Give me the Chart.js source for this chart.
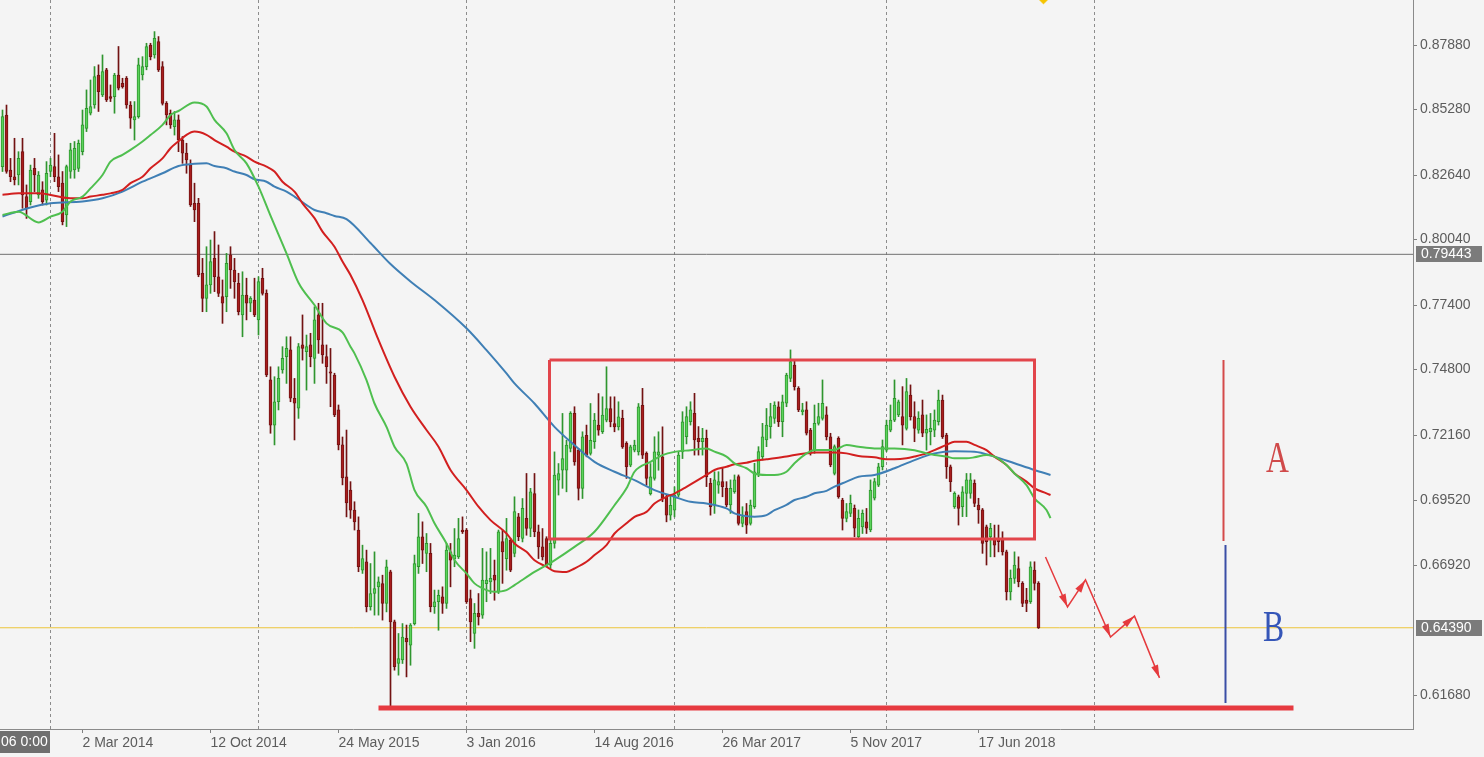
<!DOCTYPE html>
<html><head><meta charset="utf-8">
<script src="https://cdn.jsdelivr.net/npm/chart.js@4/dist/chart.umd.min.js"></script>
<style>
html,body{margin:0;padding:0;background:#f4f4f4;}
#wrap{position:relative;width:1484px;height:757px;}
canvas{display:block;}
</style></head><body><div id="wrap"><canvas id="c" width="1484" height="757"></canvas></div>
<script>
// Weekly candles, first candle is week index -12 (week 0 = 5 Jan 2014)
const firstWeek = -12;
const opens = [
0.8298,0.8506,0.8284,0.8257,0.8264,0.8358,0.8177,0.8157,0.8291,0.8184,
0.8204,0.8163,0.8278,0.8298,0.8257,0.8231,0.8103,0.8278,0.8284,0.8291,
0.8358,0.8452,0.8513,0.8546,0.8667,0.8587,0.8688,0.8580,0.8580,0.8667,
0.8634,0.8654,0.8546,0.8486,0.8499,0.8667,0.8701,0.8788,0.8748,0.8802,
0.8701,0.8553,0.8513,0.8459,0.8486,0.8405,0.8352,0.8305,0.8150,0.8150,
0.7868,0.7767,0.7821,0.7928,0.7854,0.7774,0.7774,0.7942,0.7881,0.7827,
0.7700,0.7780,0.7747,0.7760,0.7680,0.7848,0.7787,0.7438,0.7256,0.7350,
0.7478,0.7532,0.7559,0.7364,0.7324,0.7579,0.7552,0.7579,0.7525,0.7700,
0.7579,0.7532,0.7471,0.7458,0.7317,0.7176,0.7047,0.6994,0.6913,0.6833,
0.6671,0.6705,0.6524,0.6577,0.6604,0.6617,0.6537,0.6665,0.6463,0.6295,
0.6309,0.6396,0.6369,0.6456,0.6685,0.6806,0.6739,0.6739,0.6524,0.6544,
0.6564,0.6537,0.6745,0.6718,0.6725,0.6833,0.6833,0.6557,0.6416,0.6497,
0.6490,0.6617,0.6624,0.6651,0.6584,0.6786,0.6718,0.6792,0.6739,0.6886,
0.6799,0.6880,0.6839,0.6980,0.6826,0.6765,0.6799,0.6691,0.6779,0.7034,
0.7074,0.7074,0.7162,0.7303,0.7155,0.7001,0.7215,0.7142,0.7189,0.7256,
0.7229,0.7276,0.7323,0.7262,0.7249,0.7283,0.7182,0.7094,0.7155,0.7148,
0.7336,0.7142,0.6980,0.7041,0.7135,0.7128,0.6967,0.6893,0.6913,0.6974,
0.7148,0.7209,0.7270,0.7303,0.7203,0.7189,0.7203,0.7021,0.6934,0.7014,
0.7028,0.7001,0.6934,0.6988,0.7048,0.6860,0.6907,0.6860,0.6927,0.7061,
0.7129,0.7196,0.7250,0.7283,0.7330,0.7270,0.7344,0.7444,0.7498,0.7404,
0.7310,0.7317,0.7236,0.7156,0.7263,0.7283,0.7297,0.7209,0.7061,0.7203,
0.6954,0.6880,0.6900,0.6920,0.6806,0.6846,0.6866,0.6833,0.6961,0.7014,
0.7088,0.7155,0.7236,0.7276,0.7297,0.7290,0.7243,0.7377,0.7290,0.7236,
0.7297,0.7223,0.7229,0.7236,0.7270,0.7357,0.7216,0.7088,0.6927,0.6967,
0.6927,0.6981,0.6981,0.7021,0.6934,0.6914,0.6846,0.6806,0.6799,0.6799,
0.6799,0.6745,0.6584,0.6638,0.6678,0.6618,0.6551,0.6544,0.6672,0.6618];
const highs = [
0.8526,0.8546,0.8331,0.8412,0.8358,0.8412,0.8224,0.8304,0.8331,0.8278,
0.8237,0.8318,0.8331,0.8432,0.8345,0.8278,0.8304,0.8392,0.8399,0.8405,
0.8526,0.8607,0.8647,0.8701,0.8708,0.8748,0.8694,0.8627,0.8674,0.8782,
0.8654,0.8661,0.8560,0.8560,0.8735,0.8741,0.8795,0.8795,0.8842,0.8822,
0.8721,0.8560,0.8526,0.8520,0.8506,0.8419,0.8392,0.8325,0.8231,0.8170,
0.7928,0.7975,0.8002,0.8036,0.7982,0.7841,0.7948,0.7975,0.7928,0.7868,
0.7874,0.7848,0.7774,0.7848,0.7854,0.7888,0.7801,0.7491,0.7451,0.7491,
0.7572,0.7612,0.7612,0.7444,0.7585,0.7700,0.7619,0.7626,0.7733,0.7747,
0.7747,0.7579,0.7565,0.7465,0.7337,0.7208,0.7236,0.7028,0.6947,0.6886,
0.6772,0.6752,0.6698,0.6745,0.6644,0.6651,0.6712,0.6671,0.6470,0.6416,
0.6456,0.6450,0.6456,0.6732,0.6900,0.6866,0.6819,0.6779,0.6591,0.6591,
0.6604,0.6779,0.6779,0.6839,0.6880,0.6886,0.6839,0.6591,0.6537,0.6577,
0.6759,0.6745,0.6759,0.6712,0.6833,0.6833,0.6880,0.6800,0.6967,0.6900,
0.6960,0.7061,0.7001,0.7061,0.6853,0.6839,0.6806,0.6792,0.7148,0.7101,
0.7303,0.7195,0.7310,0.7330,0.7162,0.7229,0.7256,0.7343,0.7303,0.7383,
0.7370,0.7491,0.7370,0.7370,0.7350,0.7316,0.7189,0.7175,0.7195,0.7343,
0.7404,0.7148,0.7101,0.7209,0.7229,0.7249,0.6974,0.6974,0.7007,0.7148,
0.7310,0.7330,0.7350,0.7384,0.7250,0.7243,0.7236,0.7041,0.7068,0.7068,
0.7082,0.7028,0.7035,0.7055,0.7055,0.6927,0.6940,0.6954,0.7102,0.7169,
0.7263,0.7323,0.7344,0.7350,0.7350,0.7377,0.7465,0.7559,0.7518,0.7411,
0.7344,0.7350,0.7243,0.7337,0.7344,0.7438,0.7330,0.7223,0.7176,0.7209,
0.6961,0.6940,0.6974,0.6934,0.6914,0.6914,0.6920,0.7035,0.7041,0.7102,
0.7196,0.7276,0.7337,0.7438,0.7357,0.7411,0.7444,0.7418,0.7350,0.7310,
0.7357,0.7297,0.7303,0.7317,0.7397,0.7377,0.7223,0.7095,0.6987,0.6974,
0.7008,0.7061,0.7061,0.7035,0.6961,0.6920,0.6853,0.6860,0.6853,0.6853,
0.6826,0.6752,0.6672,0.6745,0.6725,0.6625,0.6598,0.6705,0.6705,0.6625];
const lows = [
0.8278,0.8271,0.8237,0.8224,0.8224,0.8130,0.8089,0.8143,0.8197,0.8170,
0.8143,0.8143,0.8257,0.8237,0.8197,0.8063,0.8056,0.8251,0.8251,0.8278,
0.8345,0.8439,0.8506,0.8533,0.8520,0.8580,0.8560,0.8560,0.8513,0.8607,
0.8614,0.8533,0.8452,0.8405,0.8493,0.8647,0.8688,0.8728,0.8735,0.8681,
0.8546,0.8466,0.8452,0.8425,0.8358,0.8311,0.8271,0.8137,0.8076,0.7854,
0.7713,0.7713,0.7787,0.7794,0.7774,0.7666,0.7713,0.7807,0.7767,0.7700,
0.7612,0.7680,0.7713,0.7693,0.7619,0.7780,0.7451,0.7223,0.7176,0.7317,
0.7465,0.7424,0.7350,0.7196,0.7283,0.7518,0.7397,0.7491,0.7424,0.7545,
0.7505,0.7424,0.7330,0.7290,0.7156,0.7015,0.6886,0.6880,0.6833,0.6665,
0.6658,0.6503,0.6510,0.6490,0.6490,0.6470,0.6503,0.6110,0.6268,0.6248,
0.6295,0.6241,0.6288,0.6450,0.6658,0.6698,0.6665,0.6503,0.6497,0.6429,
0.6497,0.6517,0.6604,0.6685,0.6718,0.6819,0.6537,0.6383,0.6356,0.6450,
0.6477,0.6544,0.6577,0.6550,0.6577,0.6618,0.6671,0.6665,0.6725,0.6790,
0.6785,0.6812,0.6806,0.6806,0.6718,0.6712,0.6685,0.6678,0.6760,0.6974,
0.7001,0.6987,0.7148,0.7094,0.6954,0.6960,0.7128,0.7135,0.7162,0.7215,
0.7222,0.7269,0.7249,0.7229,0.7236,0.7162,0.7041,0.7088,0.7148,0.7135,
0.7121,0.7014,0.6974,0.7034,0.7074,0.6947,0.6866,0.6873,0.6886,0.6967,
0.7121,0.7180,0.7256,0.7135,0.7135,0.7135,0.7008,0.6893,0.6900,0.6981,
0.6967,0.6927,0.6900,0.6981,0.6853,0.6846,0.6819,0.6853,0.6920,0.7048,
0.7115,0.7169,0.7203,0.7263,0.7250,0.7209,0.7330,0.7431,0.7397,0.7310,
0.7297,0.7216,0.7135,0.7142,0.7256,0.7276,0.7196,0.7088,0.7055,0.6961,
0.6833,0.6866,0.6887,0.6806,0.6799,0.6819,0.6819,0.6826,0.6954,0.7008,
0.7075,0.7149,0.7229,0.7270,0.7290,0.7176,0.7236,0.7276,0.7189,0.7223,
0.7209,0.7155,0.7176,0.7209,0.7256,0.7202,0.7041,0.6988,0.6920,0.6853,
0.6887,0.6887,0.6961,0.6927,0.6860,0.6739,0.6692,0.6725,0.6725,0.6745,
0.6732,0.6551,0.6551,0.6618,0.6604,0.6524,0.6504,0.6537,0.6591,0.6436];
const closes = [
0.8499,0.8278,0.8257,0.8244,0.8331,0.8184,0.8130,0.8284,0.8264,0.8264,
0.8157,0.8271,0.8304,0.8257,0.8217,0.8076,0.8298,0.8365,0.8372,0.8392,
0.8466,0.8533,0.8540,0.8661,0.8600,0.8681,0.8567,0.8573,0.8667,0.8614,
0.8620,0.8546,0.8493,0.8499,0.8708,0.8701,0.8782,0.8741,0.8815,0.8688,
0.8553,0.8506,0.8466,0.8486,0.8405,0.8352,0.8325,0.8143,0.8123,0.7861,
0.7767,0.7821,0.7915,0.7854,0.7787,0.7747,0.7908,0.7881,0.7834,0.7713,
0.7780,0.7747,0.7767,0.7700,0.7834,0.7787,0.7458,0.7256,0.7350,0.7444,
0.7525,0.7565,0.7364,0.7344,0.7572,0.7565,0.7572,0.7532,0.7680,0.7599,
0.7539,0.7491,0.7465,0.7297,0.7176,0.7043,0.6942,0.6913,0.6866,0.6685,
0.6718,0.6524,0.6577,0.6597,0.6624,0.6537,0.6685,0.6463,0.6282,0.6315,
0.6402,0.6382,0.6450,0.6698,0.6806,0.6752,0.6779,0.6524,0.6544,0.6570,
0.6537,0.6752,0.6712,0.6732,0.6799,0.6826,0.6544,0.6463,0.6497,0.6483,
0.6631,0.6631,0.6638,0.6631,0.6826,0.6745,0.6799,0.6671,0.6907,0.6806,
0.6920,0.6839,0.6987,0.6826,0.6765,0.6725,0.6691,0.6779,0.7054,0.7061,
0.7121,0.7175,0.7303,0.7108,0.7001,0.7209,0.7135,0.7195,0.7276,0.7236,
0.7296,0.7323,0.7269,0.7249,0.7289,0.7168,0.7088,0.7168,0.7175,0.7330,
0.7135,0.7041,0.7047,0.7148,0.7148,0.6960,0.6893,0.6933,0.6974,0.7135,
0.7269,0.7290,0.7317,0.7196,0.7189,0.7203,0.7048,0.6927,0.7035,0.7028,
0.7008,0.6934,0.7001,0.7035,0.6860,0.6887,0.6853,0.6934,0.7068,0.7149,
0.7209,0.7256,0.7290,0.7337,0.7270,0.7350,0.7458,0.7512,0.7411,0.7317,
0.7317,0.7223,0.7149,0.7263,0.7290,0.7344,0.7209,0.7095,0.7169,0.6967,
0.6880,0.6907,0.6941,0.6840,0.6880,0.6900,0.6840,0.6994,0.7028,0.7088,
0.7169,0.7256,0.7276,0.7364,0.7350,0.7256,0.7391,0.7290,0.7243,0.7283,
0.7223,0.7239,0.7243,0.7276,0.7357,0.7209,0.7088,0.7028,0.6981,0.6920,
0.6987,0.7035,0.7035,0.6940,0.6914,0.6779,0.6786,0.6840,0.6772,0.6786,
0.6745,0.6584,0.6638,0.6692,0.6625,0.6537,0.6537,0.6685,0.6618,0.6439];

// Moving averages (week index, value)
const maFastWeeks = [-12,-8,-3,0,3,5,8,10,13,15,18,20,23,25,28,30,32,36,39,41,44,46,49,52,55,59,62,66,69,73,75,76,79,81,84,86,89,91,94,96,99,101,104,106,109,111,114,116,121,126,131,136,141,144,146,150,153,156,160,164,166,169,171,174,176,179,181,184,186,189,191,194,196,199,202,206,211,216,219,221,224,226,229,231,234,236,239,241,244,246,249,250];
const maFastValues = [0.8103,0.8116,0.8073,0.8096,0.8116,0.8157,0.8177,0.8210,0.8264,0.8318,0.8345,0.8365,0.8399,0.8425,0.8466,0.8506,0.8522,0.8556,0.8540,0.8486,0.8432,0.8365,0.8311,0.8217,0.8100,0.7948,0.7830,0.7740,0.7666,0.7630,0.7572,0.7545,0.7437,0.7343,0.7249,0.7169,0.7101,0.6994,0.6927,0.6860,0.6779,0.6712,0.6658,0.6618,0.6591,0.6584,0.6591,0.6611,0.6664,0.6711,0.6765,0.6826,0.6933,0.7001,0.7068,0.7108,0.7135,0.7148,0.7155,0.7162,0.7149,0.7129,0.7102,0.7082,0.7061,0.7055,0.7055,0.7068,0.7102,0.7142,0.7156,0.7156,0.7156,0.7176,0.7169,0.7162,0.7162,0.7155,0.7142,0.7135,0.7129,0.7122,0.7122,0.7126,0.7135,0.7129,0.7095,0.7061,0.7014,0.6961,0.6914,0.6881];
const maMidWeeks = [-12,-8,-3,5,8,10,13,15,18,20,23,25,28,30,32,34,36,39,41,44,46,49,51,54,56,58,61,63,66,68,71,73,75,78,82,86,90,94,97,100,104,107,110,114,116,119,121,124,126,129,131,134,136,139,141,144,146,149,151,154,156,159,164,166,169,171,174,176,179,181,184,186,189,191,194,196,199,202,206,209,211,214,216,219,221,224,226,229,231,234,236,239,241,244,246,249,250];
const maMidValues = [0.8184,0.8190,0.8190,0.8170,0.8170,0.8177,0.8184,0.8190,0.8204,0.8231,0.8257,0.8291,0.8331,0.8372,0.8400,0.8426,0.8439,0.8426,0.8405,0.8378,0.8358,0.8338,0.8318,0.8298,0.8278,0.8237,0.8197,0.8150,0.8090,0.8036,0.7975,0.7915,0.7861,0.7760,0.7599,0.7451,0.7330,0.7236,0.7169,0.7075,0.6994,0.6927,0.6873,0.6819,0.6779,0.6745,0.6711,0.6685,0.6667,0.6664,0.6678,0.6705,0.6732,0.6772,0.6819,0.6860,0.6886,0.6906,0.6940,0.6967,0.6980,0.7007,0.7055,0.7075,0.7088,0.7098,0.7104,0.7112,0.7118,0.7122,0.7129,0.7135,0.7142,0.7145,0.7145,0.7145,0.7142,0.7131,0.7126,0.7118,0.7118,0.7122,0.7129,0.7142,0.7155,0.7176,0.7189,0.7189,0.7176,0.7155,0.7129,0.7095,0.7061,0.7028,0.7001,0.6981,0.6974];
const maSlowWeeks = [-12,-5,0,8,13,18,23,28,32,36,39,41,44,46,49,51,54,56,59,61,64,66,69,71,74,80,85,90,96,104,109,114,116,121,126,131,136,141,146,151,156,160,164,169,171,174,176,179,181,184,186,189,191,194,196,199,202,206,211,216,221,226,231,236,241,246,250];
const maSlowValues = [0.8097,0.8133,0.8150,0.8157,0.8170,0.8197,0.8237,0.8271,0.8300,0.8309,0.8311,0.8300,0.8291,0.8278,0.8264,0.8247,0.8237,0.8217,0.8197,0.8177,0.8143,0.8123,0.8110,0.8099,0.8086,0.7990,0.7905,0.7835,0.7760,0.7646,0.7558,0.7464,0.7424,0.7343,0.7249,0.7175,0.7108,0.7068,0.7034,0.6994,0.6967,0.6947,0.6940,0.6920,0.6900,0.6889,0.6887,0.6893,0.6913,0.6934,0.6954,0.6967,0.6981,0.6991,0.7008,0.7028,0.7048,0.7055,0.7082,0.7115,0.7142,0.7151,0.7149,0.7129,0.7102,0.7075,0.7055];

// Axis labels
const dateLabelWeeks = [8,40,72,104,136,168,200,232];
const dateLabels = ["2 Mar 2014","12 Oct 2014","24 May 2015","3 Jan 2016","14 Aug 2016","26 Mar 2017","5 Nov 2017","17 Jun 2018"];
const yearStartWeeks = [0,52,104,156,209,261];
const priceTicks = [0.8788,0.8528,0.8264,0.8004,0.7740,0.7480,0.7216,0.6952,0.6692,0.6168];
const markedPrices = [0.79443,0.64390];   // grey level line, yellow bid line

// Drawn objects (value coordinates)
const boxWeeks = [124.75,246,246,124.75,124.75];
const boxValues = [0.7518,0.7518,0.6797,0.6797,0.7518];
const supportWeeks = [82,310.75];
const supportValues = [0.6116,0.6116];
const legAWeeks = [293.25,293.25]; const legAValues = [0.7518,0.6789];
const legBWeeks = [293.75,293.75]; const legBValues = [0.6773,0.6136];
const arrowWeeks = [248.75,254.25,258.75,265,271,277.25];
const arrowValues = [0.6724,0.6523,0.6632,0.6402,0.6486,0.6237];
const markerWeek = [248.25]; const markerValue = [0.8982];
const textLabels = ["A","B"]; const textWeeks = [306.75,305.75]; const textValues = [0.7123,0.6442];

const GREEN_FILL='#5bd35b', GREEN_EDGE='#2f962f', RED_FILL='#a81d1d', RED_EDGE='#721212';
const bull = i => closes[i] >= opens[i];
const pts = (xs, ys) => xs.map((x,i)=>({x:x, y:ys[i]}));
const FONT = {family:'"Liberation Sans", Arial, sans-serif', size:14};

const overlay = {
  id:'overlay',
  beforeDatasetsDraw(chart){
    const {ctx, chartArea:a, scales:{x}} = chart;
    ctx.save();
    ctx.strokeStyle='#8c8c8c'; ctx.lineWidth=1; ctx.setLineDash([3,3]);
    yearStartWeeks.forEach(w=>{
      const px=Math.floor(x.getPixelForValue(w))+0.5;
      ctx.beginPath(); ctx.moveTo(px,a.top); ctx.lineTo(px,a.bottom); ctx.stroke();
    });
    ctx.restore();
  },
  afterDatasetsDraw(chart){
    const {ctx, scales:{x,y}} = chart;
    ctx.save();
    ctx.fillStyle='#e53a3d';
    for(let i=1;i<arrowWeeks.length;i++){
      const x1=x.getPixelForValue(arrowWeeks[i-1]), y1=y.getPixelForValue(arrowValues[i-1]);
      const x2=x.getPixelForValue(arrowWeeks[i]), y2=y.getPixelForValue(arrowValues[i]);
      const ang=Math.atan2(y2-y1,x2-x1), L=13, W=3.6;
      const bx=x2-L*Math.cos(ang), by=y2-L*Math.sin(ang);
      ctx.beginPath(); ctx.moveTo(x2,y2);
      ctx.lineTo(bx-W*Math.sin(ang), by+W*Math.cos(ang));
      ctx.lineTo(bx+W*Math.sin(ang), by-W*Math.cos(ang));
      ctx.closePath(); ctx.fill();
    }
    const cols=['#d04a4a','#3556b8'];
    textLabels.forEach((t,i)=>{
      const px=x.getPixelForValue(textWeeks[i]), py=y.getPixelForValue(textValues[i]);
      ctx.save(); ctx.translate(px,py); ctx.scale(0.72,1);
      ctx.font='44px "Liberation Serif", "Times New Roman", serif';
      ctx.fillStyle=cols[i]; ctx.textAlign='center'; ctx.textBaseline='middle';
      ctx.fillText(t,0,2); ctx.restore();
    });
    ctx.restore();
  },
  afterDraw(chart){
    const {ctx, scales:{y}} = chart;
    ctx.save();
    ctx.font='14px "Liberation Sans", Arial, sans-serif';
    ctx.textBaseline='middle';
    markedPrices.forEach(v=>{
      const py=Math.round(y.getPixelForValue(v));
      ctx.fillStyle='#7b7b7b'; ctx.fillRect(1416,py-8,66,16);
      ctx.fillStyle='#ffffff'; ctx.textAlign='left'; ctx.fillText(v.toFixed(5),1421,py+0.5);
    });
    ctx.fillStyle='#6f6f6f'; ctx.fillRect(0,731,50,22);
    ctx.fillStyle='#ffffff'; ctx.textAlign='left'; ctx.fillText('06 0:00',1,742.5);
    ctx.restore();
  }
};

new Chart(document.getElementById('c'), {
  type:'bar',
  data:{datasets:[
    {label:'wicks', data:lows.map((l,i)=>({x:firstWeek+i, y:[l,highs[i]]})), barThickness:1, grouped:false,
     backgroundColor:c=>bull(c.dataIndex)?GREEN_EDGE:RED_EDGE, borderWidth:0, order:5},
    {label:'bodies', data:opens.map((o,i)=>({x:firstWeek+i, y:[o,closes[i]]})), barThickness:3, grouped:false, minBarLength:1,
     backgroundColor:c=>bull(c.dataIndex)?GREEN_FILL:RED_FILL, borderColor:c=>bull(c.dataIndex)?GREEN_EDGE:RED_EDGE,
     borderWidth:{left:1,right:1,top:1,bottom:1}, borderSkipped:false, order:4},
    {type:'line', label:'MA slow', data:pts(maSlowWeeks,maSlowValues), borderColor:'#3f7fb5', borderWidth:2, pointRadius:0, cubicInterpolationMode:'monotone', order:3},
    {type:'line', label:'MA mid', data:pts(maMidWeeks,maMidValues), borderColor:'#d21f1f', borderWidth:2, pointRadius:0, cubicInterpolationMode:'monotone', order:2},
    {type:'line', label:'MA fast', data:pts(maFastWeeks,maFastValues), borderColor:'#4fbf4f', borderWidth:2, pointRadius:0, cubicInterpolationMode:'monotone', order:1},
    {type:'line', label:'level', data:pts([-12.625,340.625],[markedPrices[0],markedPrices[0]]), borderColor:'#707070', borderWidth:1, pointRadius:0, order:6},
    {type:'line', label:'bid', data:pts([-12.625,340.625],[markedPrices[1],markedPrices[1]]), borderColor:'#ecc53a', borderWidth:1, pointRadius:0, order:6},
    {type:'line', label:'range box', data:pts(boxWeeks,boxValues), borderColor:'#e2454b', borderWidth:3, pointRadius:0, borderJoinStyle:'miter', order:0},
    {type:'line', label:'support', data:pts(supportWeeks,supportValues), borderColor:'#e63a40', borderWidth:5, pointRadius:0, order:0},
    {type:'line', label:'leg A', data:pts(legAWeeks,legAValues), borderColor:'#d44a4a', borderWidth:2, pointRadius:0, order:0},
    {type:'line', label:'leg B', data:pts(legBWeeks,legBValues), borderColor:'#3a4ea6', borderWidth:2, pointRadius:0, order:0},
    {type:'line', label:'projection', data:pts(arrowWeeks,arrowValues), borderColor:'#e53a3d', borderWidth:1.5, pointRadius:0, order:0},
    {type:'line', label:'marker', data:pts(markerWeek,markerValue), showLine:false, pointStyle:'rectRot', pointRadius:7,
     pointBackgroundColor:'#f5c400', pointBorderColor:'#f5c400', clip:false, order:0}
  ]},
  options:{
    responsive:false, animation:false, devicePixelRatio:1,
    layout:{padding:0, autoPadding:false},
    plugins:{legend:{display:false}, tooltip:{enabled:false}},
    scales:{
      x:{type:'linear', position:'bottom', min:-12.625, max:340.625, offset:false,
         grid:{display:true, drawOnChartArea:false, drawTicks:true, tickLength:4, color:'#808080', offset:false},
         border:{display:true, color:'#8a8a8a'},
         ticks:{align:'start', padding:2, autoSkip:false, maxRotation:0, font:FONT, color:'#5c5c5c',
                callback:v=>{const i=dateLabelWeeks.indexOf(v); return i<0?'':dateLabels[i];}},
         afterBuildTicks:s=>{s.ticks=dateLabelWeeks.map(v=>({value:v}));},
         afterFit:s=>{s.height=28; s.paddingLeft=0; s.paddingRight=0;}},
      y:{type:'linear', position:'right', min:0.6031, max:0.89694, beginAtZero:false,
         grid:{display:true, drawOnChartArea:false, tickLength:4, color:'#808080', offset:false},
         border:{display:true, color:'#8a8a8a'},
         ticks:{padding:3, autoSkip:false, font:FONT, color:'#5c5c5c', callback:v=>Number(v).toFixed(5)},
         afterBuildTicks:s=>{s.ticks=priceTicks.map(v=>({value:v}));},
         afterFit:s=>{s.width=71; s.paddingTop=0; s.paddingBottom=0;}}
    }
  },
  plugins:[overlay]
});
</script></body></html>
